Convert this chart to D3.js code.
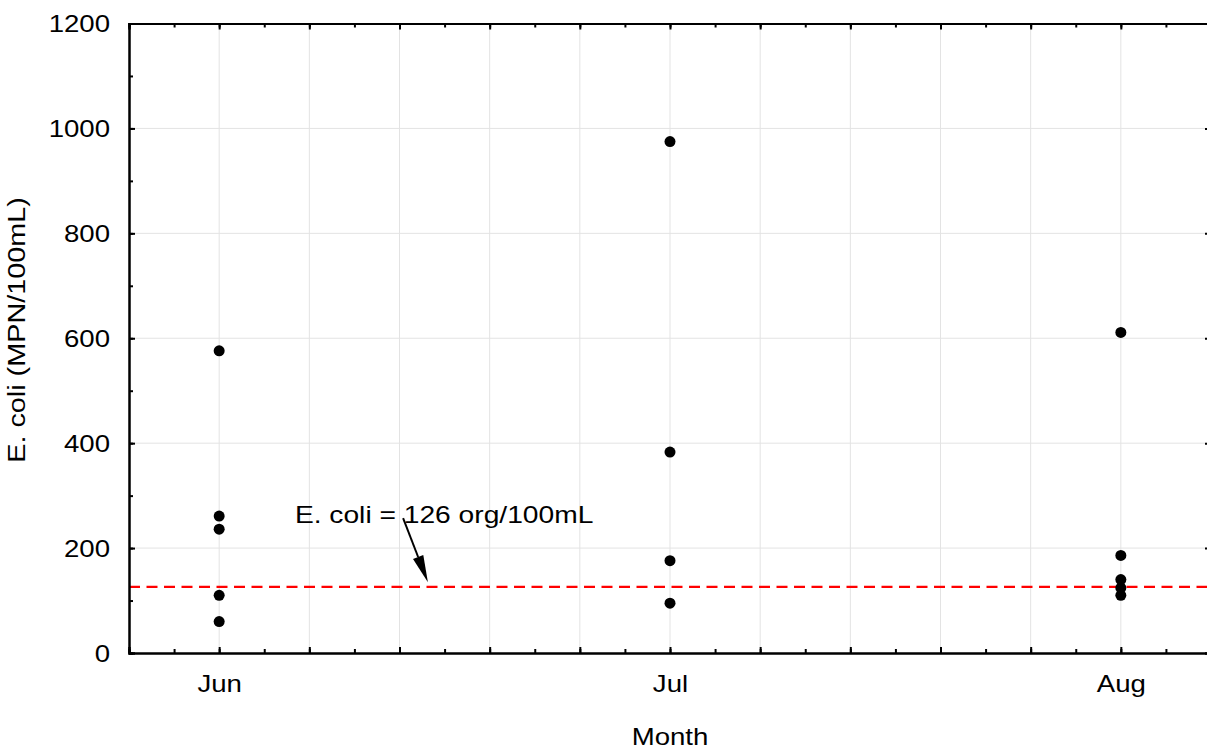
<!DOCTYPE html>
<html><head><meta charset="utf-8">
<script src="https://cdn.jsdelivr.net/npm/d3@7"></script>
<style>
body{margin:0;background:#fff}
svg text{font-family:"Liberation Sans",Arial,sans-serif;fill:#000}
</style>
</head><body>
<svg id="c" width="1207" height="749"></svg>
<script>
// ---- data ----
const months = ["Jun", "Jul", "Aug"];
const monthNums = [6, 7, 8];
const junValues = [576, 261, 236, 110, 60];
const julValues = [975, 383, 176, 95];
const augValues = [611, 186, 140, 124, 110];
const yTickValues = [0, 200, 400, 600, 800, 1000, 1200];
const threshold = 126;
const thresholdLabel = "E. coli = 126 org/100mL";
const xTitle = "Month";
const yTitle = "E. coli (MPN/100mL)";

// ---- layout ----
const SX = 1.2; // horizontal text stretch seen in reference
const FS = 23;
const svg = d3.select("#c");
const x = d3.scaleLinear().domain([5.8, 8.2]).range([129, 1211]);
const y = d3.scaleLinear().domain([0, 1200]).range([653, 23.5]);
const x0 = x.range()[0], x1 = x.range()[1], y0 = y.range()[0], y1 = y.range()[1];

const majorX = d3.range(0, 13).map(i => 5.8 + i * 0.2);
const minorX = d3.range(0, 25).map(i => 5.8 + i * 0.1);
const minorY = d3.range(0, 13).map(i => i * 100);

// grid
const grid = svg.append("g");
grid.selectAll("line.v").data(majorX.slice(1, -1)).join("line")
  .attr("x1", d => x(d)).attr("x2", d => x(d)).attr("y1", y1).attr("y2", y0)
  .attr("stroke", "#e3e3e3").attr("stroke-width", 1);
grid.selectAll("line.h").data(yTickValues.slice(1, -1)).join("line")
  .attr("x1", x0).attr("x2", x1).attr("y1", d => y(d)).attr("y2", d => y(d))
  .attr("stroke", "#e3e3e3").attr("stroke-width", 1);

// threshold line
svg.append("line")
  .attr("x1", x0).attr("x2", x1).attr("y1", y(threshold)).attr("y2", y(threshold))
  .attr("stroke", "#ff0000").attr("stroke-width", 2.2).attr("stroke-dasharray", "11,6.5");

// axes
function styleAxis(g) {
  g.select(".domain").attr("stroke", "#000").attr("stroke-width", 2);
  g.selectAll(".tick line").attr("stroke", "#000").attr("stroke-width", 2);
}
// minor ticks
svg.append("g").attr("transform", `translate(0,${y0})`)
  .call(d3.axisBottom(x).tickValues(minorX).tickSize(-4).tickFormat(""))
  .call(styleAxis);
svg.append("g").attr("transform", `translate(0,${y1})`)
  .call(d3.axisTop(x).tickValues(minorX).tickSize(-4).tickFormat(""))
  .call(styleAxis);
svg.append("g").attr("transform", `translate(${x0},0)`)
  .call(d3.axisLeft(y).tickValues(minorY).tickSize(-4).tickFormat(""))
  .call(styleAxis);
svg.append("g").attr("transform", `translate(${x1},0)`)
  .call(d3.axisRight(y).tickValues(minorY).tickSize(-4).tickFormat(""))
  .call(styleAxis);
// major ticks
svg.append("g").attr("transform", `translate(0,${y1})`)
  .call(d3.axisTop(x).tickValues(majorX).tickSize(-6).tickFormat(""))
  .call(styleAxis);
svg.append("g").attr("transform", `translate(${x1},0)`)
  .call(d3.axisRight(y).tickValues(yTickValues).tickSize(-6).tickFormat(""))
  .call(styleAxis);
const xAx = svg.append("g").attr("transform", `translate(0,${y0})`)
  .call(d3.axisBottom(x).tickValues(majorX).tickSize(-6)
    .tickFormat(d => { const i = monthNums.findIndex(m => Math.abs(m - d) < 1e-6); return i >= 0 ? months[i] : ""; }))
  .call(styleAxis);
xAx.selectAll(".tick text").attr("y", 0).attr("dy", "0.71em")
  .attr("transform", `translate(0,23) scale(${SX},1)`)
  .style("font-size", FS + "px").attr("font-family", null);
const yAx = svg.append("g").attr("transform", `translate(${x0},0)`)
  .call(d3.axisLeft(y).tickValues(yTickValues).tickSize(-6).tickFormat(d3.format("d")))
  .call(styleAxis);
yAx.selectAll(".tick text").attr("x", 0).attr("dy", "0.35em")
  .attr("transform", `translate(-19,0) scale(${SX},1)`)
  .style("font-size", FS + "px").attr("font-family", null);

// points
const series = [junValues, julValues, augValues];
const pts = [];
series.forEach((vals, i) => vals.forEach(v => pts.push({ m: monthNums[i], v })));
svg.append("g").selectAll("circle").data(pts).join("circle")
  .attr("cx", d => x(d.m)).attr("cy", d => y(d.v)).attr("r", 5.5).attr("fill", "#000");

// annotation
const ann = svg.append("g");
ann.append("text")
  .attr("transform", `translate(${x(6.168)},${y(248)}) scale(${SX},1)`)
  .style("font-size", "23.5px").text(thresholdLabel);
const ax1 = x(6.408), ay1 = y(257), ax2 = x(6.463), ay2 = y(135);
const ang = Math.atan2(ay2 - ay1, ax2 - ax1);
const hl = 27, hw = 5.5;
const bx = ax2 - hl * Math.cos(ang), by = ay2 - hl * Math.sin(ang);
ann.append("line").attr("x1", ax1).attr("y1", ay1).attr("x2", bx).attr("y2", by)
  .attr("stroke", "#000").attr("stroke-width", 2);
ann.append("path").attr("fill", "#000")
  .attr("d", `M${ax2},${ay2}L${bx + hw * Math.sin(ang)},${by - hw * Math.cos(ang)}L${bx - hw * Math.sin(ang)},${by + hw * Math.cos(ang)}Z`);

// titles
svg.append("text")
  .attr("transform", `translate(${(x(7))},${745}) scale(${SX},1)`)
  .attr("text-anchor", "middle").style("font-size", FS + "px").text(xTitle);
svg.append("text")
  .attr("transform", `translate(25,${330}) rotate(-90) scale(${SX},1)`)
  .attr("text-anchor", "middle").style("font-size", "24px").text(yTitle);
</script>
</body></html>
